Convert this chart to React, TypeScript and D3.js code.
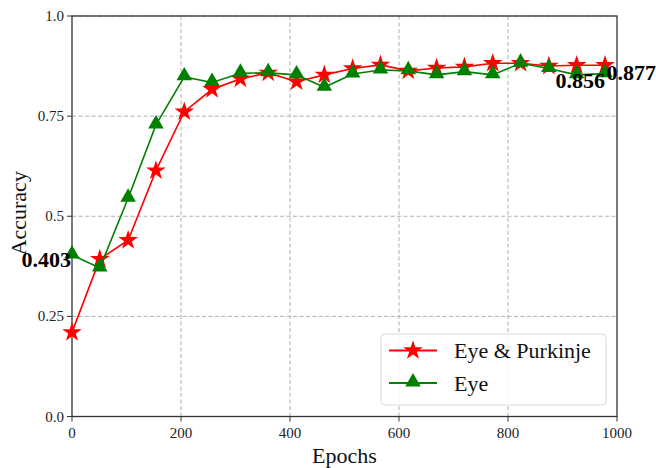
import React from "react";
import * as d3 from "d3";

const epochs = [0, 51, 103, 154, 206, 257, 309, 360, 412, 463, 515, 566, 617, 669, 720, 772, 823, 875, 926, 978];
const eyePurkinje = [0.21, 0.393, 0.44, 0.614, 0.761, 0.817, 0.843, 0.858, 0.836, 0.853, 0.869, 0.878, 0.863, 0.87, 0.873, 0.882, 0.882, 0.875, 0.877, 0.877];
const eyeOnly = [0.403, 0.371, 0.545, 0.728, 0.848, 0.834, 0.857, 0.858, 0.853, 0.822, 0.855, 0.865, 0.863, 0.853, 0.861, 0.853, 0.882, 0.869, 0.853, 0.856];
const xTicks = [0, 200, 400, 600, 800, 1000];
const yTicks = [0, 0.25, 0.5, 0.75, 1.0];
const yTickLabels = ["0.0", "0.25", "0.5", "0.75", "1.0"];
const seriesNames = ["Eye & Purkinje", "Eye"];

const W = 656, H = 468;
const M = { left: 72, right: 617, top: 16, bottom: 416.5 };
const FONT = "'Liberation Serif', 'Times New Roman', 'DejaVu Serif', serif";
const ts = { fontFamily: FONT };

export default function App() {
  const x = d3.scaleLinear().domain([0, 1000]).range([M.left, M.right]);
  const y = d3.scaleLinear().domain([0, 1]).range([M.bottom, M.top]);
  const line = d3.line<number>().x((_, i) => x(epochs[i])).y((d) => y(d));
  const star = d3.symbol().type(d3.symbolStar).size(120)() as string;
  const tri = d3.symbol().type(d3.symbolTriangle).size(105)() as string;
  const red = "#ff0000", green = "#008000";
  const n = epochs.length;

  return (
    <svg width={W} height={H} style={{ position: "absolute", left: 0, top: 0, background: "#fff" }}>
      {/* grid */}
      {xTicks.slice(1, -1).map((t) => (
        <line key={"gx" + t} x1={x(t)} x2={x(t)} y1={M.top} y2={M.bottom} stroke="#b0b0b0" strokeWidth={1} strokeDasharray="4,2.5" />
      ))}
      {yTicks.slice(1).map((t) => (
        <line key={"gy" + t} x1={M.left} x2={M.right} y1={y(t)} y2={y(t)} stroke="#b0b0b0" strokeWidth={1} strokeDasharray="4,2.5" />
      ))}
      {/* spines */}
      <rect x={M.left} y={M.top} width={M.right - M.left} height={M.bottom - M.top} fill="none" stroke="#333" strokeWidth={1.3} />
      {/* ticks */}
      {xTicks.map((t) => (
        <g key={"xt" + t}>
          <line x1={x(t)} x2={x(t)} y1={M.bottom} y2={M.bottom + 5} stroke="#333" />
          <text x={x(t)} y={M.bottom + 21} fontSize={15} textAnchor="middle" fill="#222" style={ts}>{t}</text>
        </g>
      ))}
      {yTicks.map((t, i) => (
        <g key={"yt" + t}>
          <line x1={M.left - 5} x2={M.left} y1={y(t)} y2={y(t)} stroke="#333" />
          <text x={M.left - 8} y={y(t) + 5} fontSize={15} textAnchor="end" fill="#222" style={ts}>{yTickLabels[i]}</text>
        </g>
      ))}
      {/* axis labels */}
      <text x={(M.left + M.right) / 2} y={463} fontSize={22} textAnchor="middle" fill="#111" style={ts}>Epochs</text>
      <text transform={`translate(26,${(M.top + M.bottom) / 2 - 3}) rotate(-90)`} fontSize={22} textAnchor="middle" fill="#111" style={ts}>Accuracy</text>
      {/* lines */}
      <path d={line(eyePurkinje) as string} fill="none" stroke={red} strokeWidth={1.6} />
      {eyePurkinje.map((v, i) => (
        <path key={"r" + i} d={star} transform={`translate(${x(epochs[i])},${y(v)})`} fill={red} />
      ))}
      <path d={line(eyeOnly) as string} fill="none" stroke={green} strokeWidth={1.6} />
      {eyeOnly.map((v, i) => (
        <path key={"g" + i} d={tri} transform={`translate(${x(epochs[i])},${y(v) - 1})`} fill={green} />
      ))}
      {/* annotations */}
      <text x={x(epochs[0]) - 1} y={y(eyeOnly[0]) + 12} fontSize={22} fontWeight="bold" textAnchor="end" fill="#000" style={ts}>{eyeOnly[0].toFixed(3)}</text>
      <text x={x(epochs[n - 1])} y={y(eyeOnly[n - 1]) + 14.6} fontSize={22} fontWeight="bold" textAnchor="end" fill="#000" style={ts}>{eyeOnly[n - 1].toFixed(3)}</text>
      <text x={x(epochs[n - 1]) + 1.5} y={y(eyePurkinje[n - 1]) + 15} fontSize={22} fontWeight="bold" fill="#000" style={ts}>{eyePurkinje[n - 1].toFixed(3)}</text>
      {/* legend */}
      <g>
        <rect x={381} y={334} width={225} height={71} rx={4} fill="#fff" fillOpacity={0.85} stroke="#d8d8d8" />
        {[red, green].map((c, i) => (
          <g key={"lg" + i} transform={`translate(0,${350.5 + i * 32.5})`}>
            <line x1={389} x2={437} y1={0} y2={0} stroke={c} strokeWidth={2} />
            <path d={i === 0 ? star : tri} transform={`translate(413,${i === 0 ? 0 : -1})`} fill={c} />
            <text x={454} y={7.5} fontSize={22} fill="#111" style={ts}>{seriesNames[i]}</text>
          </g>
        ))}
      </g>
    </svg>
  );
}
